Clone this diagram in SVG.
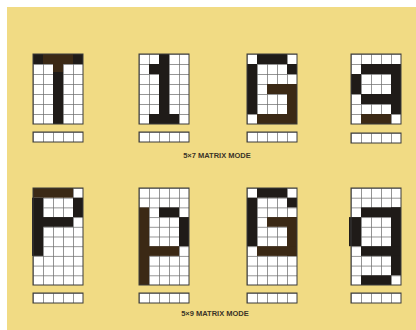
<svg xmlns="http://www.w3.org/2000/svg" width="416" height="330" viewBox="0 0 416 330">
<style>
.k{fill:#1f1b18}
.b{fill:#3b2915}
.fr{fill:none;stroke:#3a3a3a;stroke-width:1}
.lbl{font-family:"Liberation Sans",Arial,sans-serif;font-size:7.5px;font-weight:bold;fill:#3a3428;text-anchor:middle}
</style>
<defs>
<pattern id="gt" patternUnits="userSpaceOnUse" width="10" height="10">
<rect width="10" height="10" fill="#fff"/>
<path d="M0,0.4H10M0.4,0V10" stroke="#6a6a6a" stroke-width="0.8"/>
</pattern>
<pattern id="gb" patternUnits="userSpaceOnUse" width="10" height="9.7">
<rect width="10" height="9.7" fill="#fff"/>
<path d="M0,0.4H10M0.4,0V9.7" stroke="#6a6a6a" stroke-width="0.8"/>
</pattern>
</defs>
<rect width="416" height="330" fill="#fff"/>
<rect x="7" y="7" width="409" height="323" fill="#f1db84"/>

<g id="T" transform="translate(33,54)">
<rect width="50" height="70" fill="url(#gt)"/>
<rect class="k" x="0" y="0" width="10" height="10"/>
<rect class="b" x="10" y="0" width="30" height="10"/>
<rect class="k" x="40" y="0" width="10" height="10"/>
<rect class="k" x="20" y="10" width="10" height="60"/>
<rect class="b" x="20" y="10" width="10" height="8"/>
<rect class="fr" width="50" height="70"/>
</g>
<g id="one" transform="translate(139,54)">
<rect width="50" height="70" fill="url(#gt)"/>
<rect class="k" x="20" y="0" width="10" height="70"/>
<rect class="k" x="10" y="10" width="10" height="10"/>
<rect class="k" x="10" y="60" width="30" height="10"/>
<rect class="fr" width="50" height="70"/>
</g>
<g id="G-top" transform="translate(247,54)">
<rect width="50" height="70" fill="url(#gt)"/>
<rect class="k" x="10" y="0" width="30" height="10"/>
<rect class="k" x="40" y="10" width="10" height="10"/>
<rect class="k" x="0" y="10" width="10" height="50"/>
<rect class="b" x="20" y="30" width="30" height="10"/>
<rect class="b" x="40" y="30" width="10" height="40"/>
<rect class="b" x="10" y="60" width="40" height="10"/>
<rect class="fr" width="50" height="70"/>
</g>
<g id="g-top" transform="translate(351,54)">
<rect width="50" height="70" fill="url(#gt)"/>
<rect class="k" x="10" y="10" width="40" height="10"/>
<rect class="k" x="0" y="20" width="10" height="20"/>
<rect class="k" x="40" y="10" width="10" height="50"/>
<rect class="k" x="10" y="40" width="40" height="10"/>
<rect class="b" x="10" y="60" width="30" height="10"/>
<rect class="fr" width="50" height="70"/>
</g>

<g id="bars-top">
<g transform="translate(33,132)"><rect width="50" height="10" fill="url(#gt)"/><rect class="fr" width="50" height="10"/></g>
<g transform="translate(139,132)"><rect width="50" height="10" fill="url(#gt)"/><rect class="fr" width="50" height="10"/></g>
<g transform="translate(247,132)"><rect width="50" height="10" fill="url(#gt)"/><rect class="fr" width="50" height="10"/></g>
<g transform="translate(351,133)"><rect width="50" height="10" fill="url(#gt)"/><rect class="fr" width="50" height="10"/></g>
</g>
<text class="lbl" x="217" y="158">5×7 MATRIX MODE</text>

<g id="P" transform="translate(33,188)">
<rect width="50" height="97" fill="url(#gb)"/>
<rect class="b" x="0" y="0" width="40" height="9.7"/>
<rect class="k" x="-1" y="9.7" width="11" height="58.2"/>
<rect class="k" x="40" y="9.7" width="10" height="19.4"/>
<rect class="k" x="10" y="29.1" width="30" height="9.7"/>
<rect class="fr" width="50" height="97"/>
</g>
<g id="p" transform="translate(139,188)">
<rect width="50" height="97" fill="url(#gb)"/>
<rect class="b" x="0" y="19.4" width="10" height="77.6"/>
<rect class="k" x="20" y="19.4" width="20" height="9.7"/>
<rect class="k" x="40" y="29.1" width="10" height="29.1"/>
<rect class="b" x="10" y="58.2" width="30" height="9.7"/>
<rect class="fr" width="50" height="97"/>
</g>
<g id="G-bot" transform="translate(247,188)">
<rect width="50" height="97" fill="url(#gb)"/>
<rect class="k" x="10" y="0" width="30" height="9.7"/>
<rect class="k" x="40" y="9.7" width="10" height="9.7"/>
<rect class="k" x="0" y="9.7" width="10" height="48.5"/>
<rect class="b" x="20" y="29.1" width="30" height="9.7"/>
<rect class="b" x="40" y="29.1" width="10" height="38.8"/>
<rect class="b" x="10" y="58.2" width="40" height="9.7"/>
<rect class="fr" width="50" height="97"/>
</g>
<g id="g-bot" transform="translate(351,188)">
<rect width="50" height="97" fill="url(#gb)"/>
<rect class="k" x="10" y="19.4" width="40" height="9.7"/>
<rect class="k" x="-2" y="29.1" width="12" height="29.1"/>
<rect class="k" x="40" y="19.4" width="10" height="67.9"/>
<rect class="k" x="10" y="58.2" width="40" height="9.7"/>
<rect class="k" x="10" y="87.3" width="30" height="9.7"/>
<rect class="fr" width="50" height="97"/>
</g>

<g id="bars-bot">
<g transform="translate(33,293)"><rect width="50" height="10" fill="url(#gt)"/><rect class="fr" width="50" height="10"/></g>
<g transform="translate(139,293)"><rect width="50" height="10" fill="url(#gt)"/><rect class="fr" width="50" height="10"/></g>
<g transform="translate(247,293)"><rect width="50" height="10" fill="url(#gt)"/><rect class="fr" width="50" height="10"/></g>
<g transform="translate(351,293)"><rect width="50" height="10" fill="url(#gt)"/><rect class="fr" width="50" height="10"/></g>
</g>
<text class="lbl" x="215" y="316">5×9 MATRIX MODE</text>
</svg>
